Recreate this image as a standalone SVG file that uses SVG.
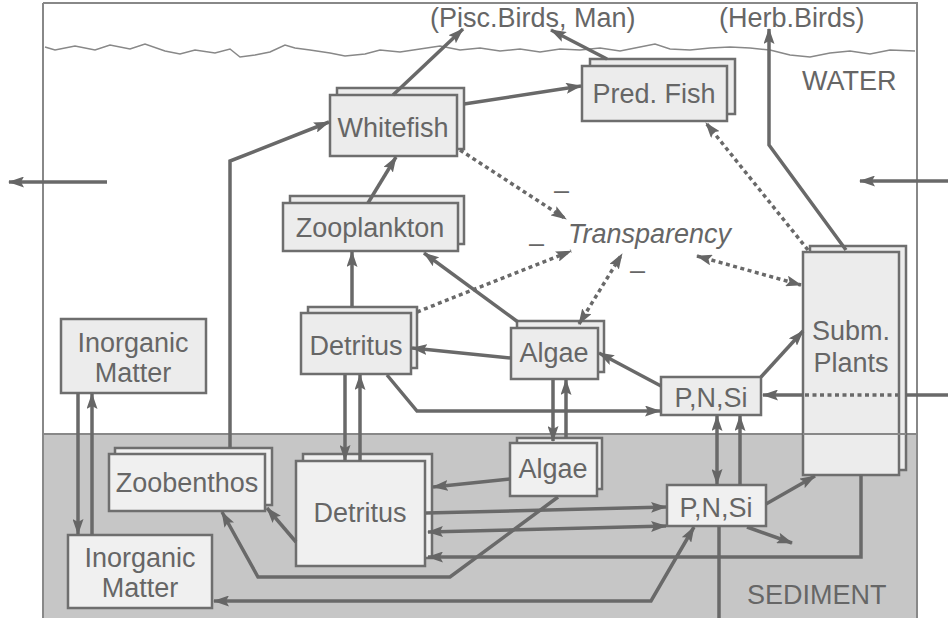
<svg xmlns="http://www.w3.org/2000/svg" width="948" height="618" viewBox="0 0 948 618">
<style>
  .t{font-family:"Liberation Sans",Arial,sans-serif;font-size:27px;fill:#666;text-anchor:middle}
  .lbl{font-family:"Liberation Sans",Arial,sans-serif;font-size:27px;fill:#666}
  .box{fill:#ececec;stroke:#6e6e6e;stroke-width:2.5}
  .sbox{fill:#f0f0f0;stroke:#6e6e6e;stroke-width:2.5}
  .c{fill:none;stroke:#696969;stroke-width:3.5}
  .d{fill:none;stroke:#696969;stroke-width:3.5;stroke-dasharray:4 3.5}
</style>
<defs>
  <marker id="a" viewBox="0 0 16 11" refX="15" refY="5.5" markerWidth="16" markerHeight="11" markerUnits="userSpaceOnUse" orient="auto-start-reverse">
    <path d="M0,0 L16,5.5 L0,11 L3,5.5z" fill="#666"/>
  </marker>
</defs>
<rect x="0" y="0" width="948" height="618" fill="#fff"/>
<g id="background">
  <rect x="43" y="434" width="874" height="190" fill="#c6c6c6"/>
  <path d="M43,3 H917 V620 M43,3 V620" fill="none" stroke="#888" stroke-width="2"/>
  <line x1="43" y1="434" x2="917" y2="434" stroke="#888" stroke-width="2"/>
  <polyline fill="none" stroke="#888" stroke-width="1.5" points="45,47 55,50 75,46 95,50 110,45 130,49 145,44 165,51 180,54 195,50 215,53 230,49 240,57 255,55 270,52 285,45 295,48 310,50 330,53 345,56 365,54 380,50 400,52 420,49 440,46 460,50 480,48 500,51 520,49 540,52 560,49 580,50 600,48 620,51 640,47 655,44 670,49 690,50 710,48 730,47 750,48 770,50 790,55 810,57 830,53 850,51 870,54 890,50 915,51"/>
  <text class="lbl" x="802" y="90" font-size="28">WATER</text>
  <text class="lbl" x="747" y="604" font-size="28">SEDIMENT</text>
  <text class="lbl" x="430" y="27">(Pisc.Birds, Man)</text>
  <text class="lbl" x="719" y="27">(Herb.Birds)</text>
  <text class="lbl" x="568" y="243" font-style="italic">Transparency</text>
  <text class="lbl" x="554" y="199" font-size="22">–</text>
  <text class="lbl" x="529" y="252" font-size="22">–</text>
  <text class="lbl" x="630" y="279" font-size="22">–</text>
</g>
<g id="n-whitefish">
  <rect class="box" x="337" y="88" width="127" height="61"/>
  <rect class="box" x="330" y="95" width="127" height="61"/>
  <text class="t" x="393" y="137">Whitefish</text>
</g>
<g id="n-predfish">
  <rect class="box" x="590" y="59" width="145" height="55"/>
  <rect class="box" x="582" y="66" width="145" height="55"/>
  <text class="t" x="654" y="103">Pred. Fish</text>
</g>
<g id="n-zooplankton">
  <rect class="box" x="290" y="196" width="174" height="48"/>
  <rect class="box" x="283" y="203" width="175" height="48"/>
  <text class="t" x="370" y="237">Zooplankton</text>
</g>
<g id="n-detritus-w">
  <rect class="box" x="308" y="307" width="109" height="61"/>
  <rect class="box" x="301" y="313" width="110" height="61"/>
  <text class="t" x="356" y="355">Detritus</text>
</g>
<g id="n-inorganic-w">
  <rect class="box" x="61" y="319" width="145" height="74"/>
  <text class="t" x="133" y="352">Inorganic</text>
  <text class="t" x="133" y="382">Matter</text>
</g>
<g id="n-algae-w">
  <rect class="box" x="517" y="321" width="87" height="51"/>
  <rect class="box" x="511" y="328" width="87" height="51"/>
  <text class="t" x="554" y="362">Algae</text>
</g>
<g id="n-pnsi-w">
  <rect class="box" x="661" y="377" width="100" height="38"/>
  <text class="t" x="711" y="407">P,N,Si</text>
</g>
<g id="n-zoobenthos">
  <rect class="sbox" x="115" y="448" width="157" height="57"/>
  <rect class="sbox" x="109" y="454" width="156" height="57"/>
  <text class="t" x="187" y="492">Zoobenthos</text>
</g>
<g id="n-detritus-s">
  <rect class="sbox" x="303" y="454" width="129" height="104"/>
  <rect class="sbox" x="296" y="461" width="129" height="105"/>
  <text class="t" x="360" y="522">Detritus</text>
</g>
<g id="n-inorganic-s">
  <rect class="sbox" x="68" y="535" width="144" height="73"/>
  <text class="t" x="140" y="567">Inorganic</text>
  <text class="t" x="140" y="597">Matter</text>
</g>
<g id="n-algae-s">
  <rect class="sbox" x="517" y="438" width="85" height="51"/>
  <rect class="sbox" x="510" y="443" width="87" height="53"/>
  <text class="t" x="553" y="478">Algae</text>
</g>
<g id="n-pnsi-s">
  <rect class="sbox" x="667" y="485" width="99" height="41"/>
  <text class="t" x="716" y="517">P,N,Si</text>
</g>
<g id="n-plants">
  <rect class="box" x="810" y="246" width="96" height="224"/>
  <rect class="box" x="803" y="252" width="96" height="223"/>
  <line x1="803" y1="434" x2="906" y2="434" stroke="#888" stroke-width="2"/>
  <text class="t" x="851" y="340">Subm.</text>
  <text class="t" x="851" y="372">Plants</text>
</g>
<g id="connectors">
  <path class="c" d="M393,95 L463,29" marker-end="url(#a)"/>
  <path class="c" d="M607,59 L551,30" marker-end="url(#a)"/>
  <path class="c" d="M464,104 L581,86" marker-end="url(#a)"/>
  <path class="c" d="M368,203 L396,157" marker-end="url(#a)"/>
  <path class="c" d="M230,448 L230,161 L329,122" marker-end="url(#a)"/>
  <path class="c" d="M352,307 L352,252" marker-end="url(#a)"/>
  <path class="c" d="M518,322 L424,253" marker-end="url(#a)"/>
  <path class="c" d="M511,358 L412,348" marker-end="url(#a)"/>
  <path class="c" d="M661,386 L599,353" marker-end="url(#a)"/>
  <path class="c" d="M761,377 L803,331" marker-end="url(#a)"/>
  <path class="c" d="M803,395 L763,395" marker-end="url(#a)"/>
  <path class="c" d="M948,395 L906,395"/>
  <path class="d" d="M805,395 L898,395"/>
  <path class="c" d="M387,375 L417,411 L660,411" marker-end="url(#a)"/>
  <path class="c" d="M345,375 L345,460" marker-end="url(#a)"/>
  <path class="c" d="M360,461 L360,375" marker-end="url(#a)"/>
  <path class="c" d="M553,380 L553,441" marker-end="url(#a)"/>
  <path class="c" d="M566,438 L566,380" marker-end="url(#a)"/>
  <path class="c" d="M78,393 L78,534" marker-end="url(#a)"/>
  <path class="c" d="M92,535 L92,394" marker-end="url(#a)"/>
  <path class="c" d="M846,250 L769,145 L769,29" marker-end="url(#a)"/>
  <path class="c" d="M510,479 L433,487" marker-end="url(#a)"/>
  <path class="c" d="M426,513 L666,507" marker-end="url(#a)"/>
  <path class="c" d="M428,532 L666,526" marker-start="url(#a)" marker-end="url(#a)"/>
  <path class="c" d="M861,475 L861,557 L428,557" marker-end="url(#a)"/>
  <path class="c" d="M558,497 L450,577 L258,577 L222,512" marker-end="url(#a)"/>
  <path class="c" d="M296,542 L267,508" marker-end="url(#a)"/>
  <path class="c" d="M694,527 L651,601 L214,601" marker-start="url(#a)" marker-end="url(#a)"/>
  <path class="c" d="M766,504 L815,476" marker-end="url(#a)"/>
  <path class="c" d="M747,527 L792,543" marker-end="url(#a)"/>
  <path class="c" d="M719,526 L719,618"/>
  <path class="c" d="M717,416 L717,484" marker-start="url(#a)" marker-end="url(#a)"/>
  <path class="c" d="M740,485 L740,416" marker-end="url(#a)"/>
  <path class="d" d="M460,150 L566,219" marker-end="url(#a)"/>
  <path class="d" d="M417,312 L571,251" marker-end="url(#a)"/>
  <path class="d" d="M579,324 L622,254" marker-start="url(#a)" marker-end="url(#a)"/>
  <path class="d" d="M697,256 L801,285" marker-start="url(#a)" marker-end="url(#a)"/>
  <path class="d" d="M808,250 L706,123" marker-end="url(#a)"/>
  <path class="c" d="M107,182 L9,182" marker-end="url(#a)"/>
  <path class="c" d="M948,181 L860,181" marker-end="url(#a)"/>
</g>
</svg>
